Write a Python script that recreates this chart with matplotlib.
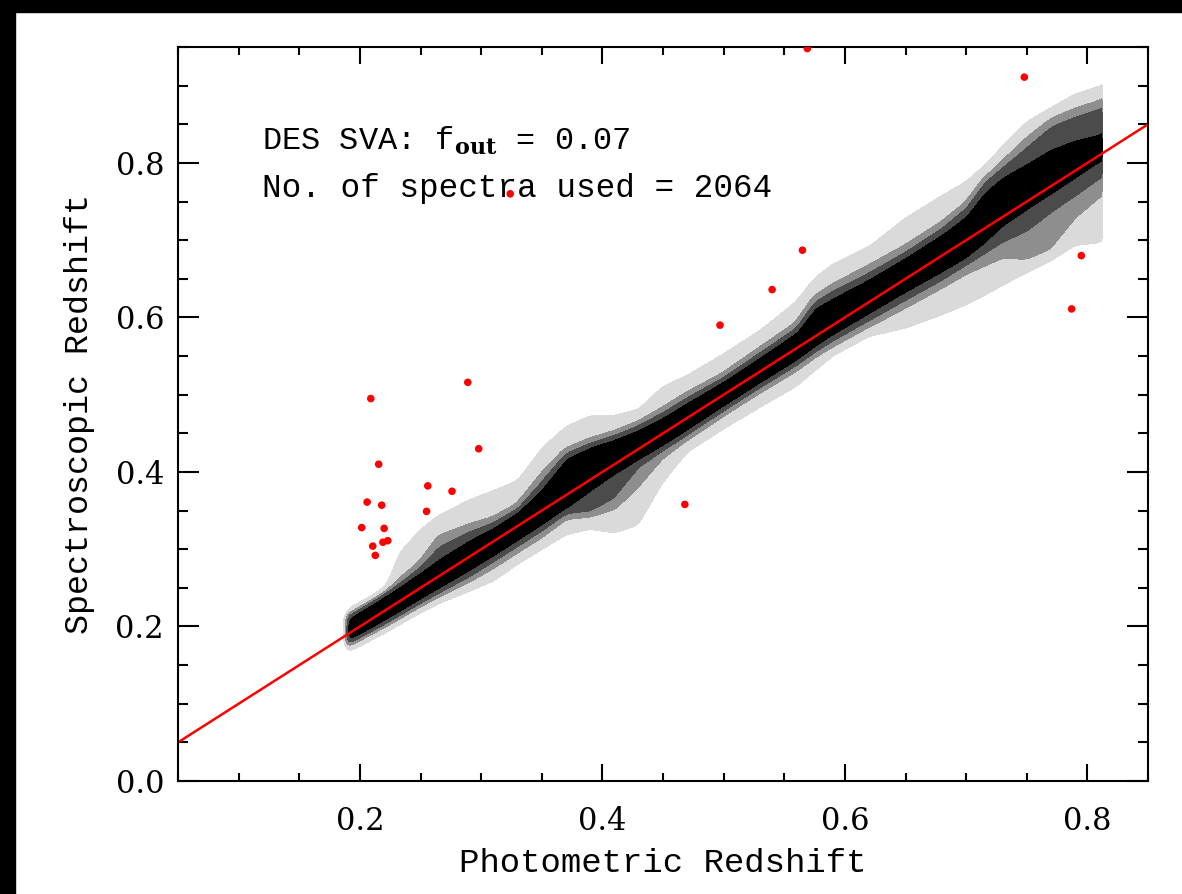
import matplotlib
matplotlib.use('Agg')
import matplotlib.pyplot as plt, numpy as np
from matplotlib.patches import Rectangle
from matplotlib.ticker import MultipleLocator

plt.rcParams['font.family'] = ['DejaVu Serif']
plt.rcParams['mathtext.fontset'] = 'dejavuserif'
LABEL_FONT = ['Liberation Mono', 'DejaVu Serif']

# ridge of the photo-z / spec-z density: photo-z nodes and the offsets
# (spec-z minus photo-z) of each contour edge above and below the ridge
ridge_x = [0.19, 0.21, 0.222, 0.232, 0.25, 0.265, 0.29, 0.31, 0.33, 0.35, 0.37,
           0.39, 0.41, 0.43, 0.45, 0.47, 0.50, 0.53, 0.56, 0.575, 0.59, 0.62,
           0.65, 0.68, 0.70, 0.715, 0.73, 0.75, 0.77, 0.79, 0.81]
light_up = [0.030, 0.027, 0.028, 0.062, 0.075, 0.078, 0.073, 0.065, 0.058, 0.080, 0.088,
            0.082, 0.062, 0.050, 0.060, 0.054, 0.052, 0.052, 0.060, 0.075, 0.078, 0.071,
            0.078, 0.077, 0.075, 0.080, 0.090, 0.102, 0.100, 0.098, 0.088]
mid_up = [0.026, 0.024, 0.024, 0.026, 0.032, 0.052, 0.041, 0.030, 0.027, 0.047, 0.059,
          0.052, 0.042, 0.035, 0.032, 0.032, 0.027, 0.030, 0.032, 0.052, 0.052, 0.047,
          0.042, 0.042, 0.047, 0.064, 0.072, 0.082, 0.087, 0.080, 0.070]
dark_up = [0.023, 0.022, 0.022, 0.023, 0.027, 0.037, 0.032, 0.024, 0.022, 0.037, 0.054,
           0.047, 0.037, 0.030, 0.027, 0.026, 0.022, 0.024, 0.026, 0.044, 0.044, 0.037,
           0.034, 0.035, 0.042, 0.060, 0.064, 0.070, 0.077, 0.070, 0.060]
core_up = [0.020, 0.019, 0.019, 0.019, 0.019, 0.020, 0.020, 0.017, 0.018, 0.027, 0.047,
           0.042, 0.032, 0.024, 0.020, 0.019, 0.017, 0.018, 0.020, 0.036, 0.034, 0.029,
           0.027, 0.027, 0.030, 0.045, 0.050, 0.047, 0.045, 0.037, 0.024]
core_lo = [-0.010, -0.013, -0.014, -0.015, -0.016, -0.017, -0.019, -0.020, -0.020, -0.020, -0.019,
           -0.014, -0.012, -0.015, -0.017, -0.017, -0.016, -0.016, -0.017, -0.015, -0.014, -0.016,
           -0.018, -0.022, -0.024, -0.020, -0.012, -0.010, -0.010, -0.009, -0.008]
dark_lo = [-0.013, -0.016, -0.018, -0.019, -0.020, -0.022, -0.026, -0.026, -0.026, -0.026, -0.024,
           -0.042, -0.044, -0.022, -0.022, -0.022, -0.021, -0.021, -0.022, -0.020, -0.020, -0.024,
           -0.028, -0.032, -0.032, -0.032, -0.032, -0.037, -0.032, -0.032, -0.030]
mid_lo = [-0.016, -0.019, -0.021, -0.022, -0.024, -0.027, -0.032, -0.034, -0.034, -0.034, -0.030,
          -0.047, -0.057, -0.047, -0.030, -0.028, -0.026, -0.026, -0.028, -0.026, -0.028, -0.032,
          -0.036, -0.040, -0.042, -0.047, -0.052, -0.075, -0.082, -0.060, -0.052]
light_lo = [-0.021, -0.025, -0.027, -0.028, -0.030, -0.033, -0.043, -0.050, -0.048, -0.049, -0.050,
            -0.063, -0.088, -0.098, -0.063, -0.043, -0.043, -0.045, -0.048, -0.043, -0.038, -0.043,
            -0.063, -0.076, -0.083, -0.086, -0.088, -0.091, -0.095, -0.096, -0.113]

# catastrophic outliers (photo-z, spec-z)
out_x = [0.209, 0.289, 0.298, 0.2155, 0.256, 0.276, 0.206, 0.218, 0.255, 0.2015, 0.220, 0.219,
         0.223, 0.2106, 0.2127, 0.468, 0.748, 0.565, 0.540, 0.497, 0.795, 0.787, 0.569, 0.324]
out_y = [0.495, 0.516, 0.430, 0.410, 0.382, 0.375, 0.361, 0.357, 0.349, 0.328, 0.327, 0.309,
         0.311, 0.304, 0.292, 0.358, 0.911, 0.687, 0.636, 0.590, 0.680, 0.611, 0.948, 0.760]

# density field on a grid, built from the edge offsets above
gx = np.linspace(0.05, 0.85, 801)
gy = np.linspace(0.0, 0.95, 951)
Z = np.zeros((gy.size, gx.size))
edges = [light_lo, mid_lo, dark_lo, core_lo, core_up, dark_up, mid_up, light_up]
for j, x in enumerate(gx):
    if x < 0.189:
        continue
    xe = min(x, 0.81)
    e = [np.interp(xe, ridge_x, arr) for arr in edges]
    yp = x + np.array([e[0] - 0.03] + e[:4] + [0.5 * (e[3] + e[4])] + e[4:] + [e[7] + 0.03])
    fp = [0, 1, 2, 3, 4, 5, 4, 3, 2, 1, 0]
    Z[:, j] = np.interp(gy, yp, fp, left=0, right=0)

# soften the contour corners a little
k = np.exp(-0.5 * (np.arange(-8, 9) / 2.5) ** 2)
k /= k.sum()
Z = np.apply_along_axis(lambda c: np.convolve(c, k, mode='same'), 0, Z)
Z = np.apply_along_axis(lambda r: np.convolve(r, k, mode='same'), 1, Z)
Z[:, gx > 0.813] = 0

fig = plt.figure(figsize=(11.82, 8.94), dpi=100)
fig.add_artist(Rectangle((0, 1 - 12 / 894), 1, 12 / 894, transform=fig.transFigure,
                         color='black', zorder=-1))
fig.add_artist(Rectangle((0, 0), 15 / 1182, 1, transform=fig.transFigure,
                         color='black', zorder=-1))

ax = fig.add_axes([178 / 1182, 113 / 894, 970 / 1182, 734 / 894])
ax.contourf(gx, gy, Z, levels=[0.97, 1.97, 2.97, 3.97, 6],
            colors=['#dadada', '#8e8e8e', '#4b4b4b', '#000000'])
ax.plot([0.05, 0.85], [0.05, 0.85], color='red', lw=1.8)
ax.scatter(out_x, out_y, s=30, color='red', edgecolors='none', zorder=3)

ax.text(0.1193, 0.8167, r'DES SVA: f$_{\mathbf{out}}$ = 0.07', fontsize=23,
        va='baseline', family=LABEL_FONT)
ax.text(0.1193, 0.7559, 'No. of spectra used = 2064', fontsize=23.5,
        va='baseline', family=LABEL_FONT)

ax.set_xlim(0.05, 0.85)
ax.set_ylim(0.0, 0.95)
ax.xaxis.set_minor_locator(MultipleLocator(0.05))
ax.yaxis.set_minor_locator(MultipleLocator(0.05))
ax.set_xticks([0.2, 0.4, 0.6, 0.8])
ax.set_xticklabels(['0.2', '0.4', '0.6', '0.8'])
ax.set_yticks([0.0, 0.2, 0.4, 0.6, 0.8])
ax.set_yticklabels(['0.0', '0.2', '0.4', '0.6', '0.8'])
ax.tick_params(which='both', direction='in', top=True, right=True, width=1.5, labelsize=22)
ax.xaxis.set_tick_params(which='major', length=12, pad=18)
ax.xaxis.set_tick_params(which='minor', length=6)
ax.yaxis.set_tick_params(which='major', length=15, pad=10)
ax.yaxis.set_tick_params(which='minor', length=7.5)
for s in ax.spines.values():
    s.set_linewidth(1.5)

ax.set_xlabel('Photometric Redshift', fontsize=24.5, labelpad=8, family=LABEL_FONT)
ax.set_ylabel('Spectroscopic Redshift', fontsize=24, labelpad=15, family=LABEL_FONT)

fig.savefig('out.png', dpi=100)
